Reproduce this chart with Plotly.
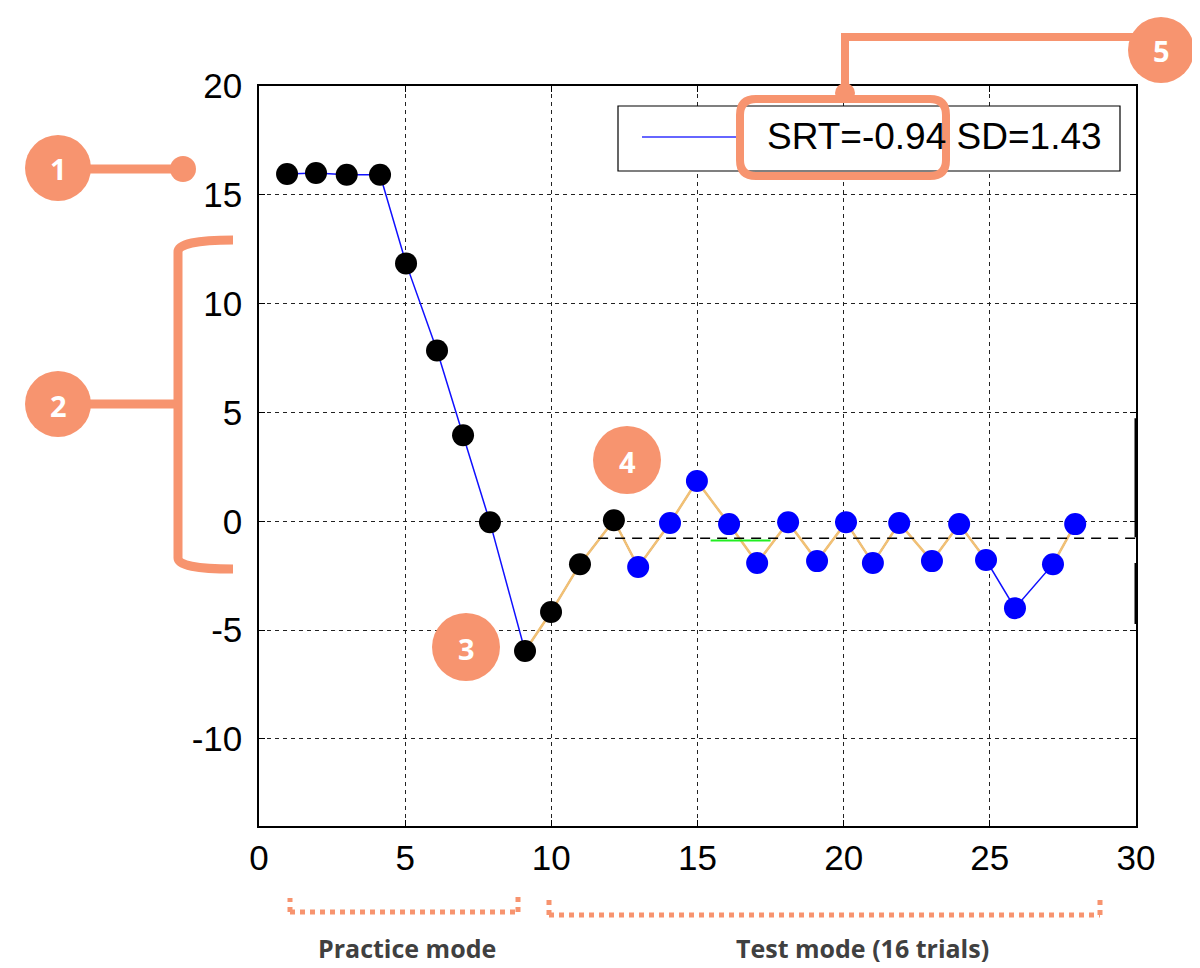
import plotly.graph_objects as go

# ---------------- data ----------------
practice_x = [0.96, 1.95, 3.0, 4.14, 5.03, 6.09, 6.98, 7.9, 9.1, 9.99, 10.98, 12.14]
practice_y = [15.96, 16.0, 15.92, 15.92, 11.85, 7.85, 3.95, -0.04, -5.96, -4.17, -1.97, 0.05]

test_x = [12.97, 14.06, 14.98, 16.08, 17.04, 18.1, 19.09, 20.08, 21.0, 21.9,
          23.02, 23.95, 24.87, 25.86, 27.16, 27.92]
test_y = [-2.1, -0.08, 1.85, -0.13, -1.92, -0.04, -1.83, -0.04, -1.92, -0.08,
          -1.83, -0.13, -1.78, -3.99, -1.97, -0.13]

srt_level = -0.78
srt_x = [11.6, 30]
green_x = [15.45, 17.5]
green_level = -0.88

x_ticks = [0, 5, 10, 15, 20, 25, 30]
x_tick_labels = ["0", "5", "10", "15", "20", "25", "30"]
y_ticks = [-10, -5, 0, 5, 10, 15, 20]
y_tick_labels = ["-10", "-5", "0", "5", "10", "15", "20"]
legend_text = "SRT=-0.94 SD=1.43"
label_practice = "Practice mode"
label_test = "Test mode (16 trials)"
badges = ["1", "2", "3", "4", "5"]

ORANGE = "#F7946F"
TAN = "#F2C173"
FONT = "Arial, Liberation Sans, sans-serif"

# ------------- page geometry (px, in the final screenshot) -------------
OFF = 8                     # page body margin of the html page
W, H = 1200 - OFF, 968 - OFF
L, R, T, B = 259, 1136, 86, 826


def px(x):
    return (x - L) / (R - L)


def py(y):
    return (B - y) / (B - T)


fig = go.Figure()

all_x = practice_x + test_x
all_y = practice_y + test_y
fig.add_trace(go.Scatter(x=all_x, y=all_y, mode="lines",
                         line=dict(color="#1010FF", width=1.5),
                         showlegend=False, hoverinfo="skip"))

tan_x = practice_x[8:] + test_x[:13] + [None] + test_x[14:]
tan_y = practice_y[8:] + test_y[:13] + [None] + test_y[14:]
fig.add_trace(go.Scatter(x=tan_x, y=tan_y, mode="lines",
                         line=dict(color=TAN, width=2.5),
                         connectgaps=False, showlegend=False, hoverinfo="skip"))

fig.add_trace(go.Scatter(x=srt_x, y=[srt_level, srt_level], mode="lines",
                         line=dict(color="black", width=1.5, dash="10px,7px"),
                         showlegend=False, hoverinfo="skip"))
fig.add_trace(go.Scatter(x=green_x, y=[green_level, green_level], mode="lines",
                         line=dict(color="#22EE22", width=2),
                         showlegend=False, hoverinfo="skip"))

fig.add_trace(go.Scatter(x=practice_x, y=practice_y, mode="markers",
                         marker=dict(color="black", size=22),
                         name="Practice", showlegend=False))
fig.add_trace(go.Scatter(x=test_x, y=test_y, mode="markers",
                         marker=dict(color="#0000FF", size=22),
                         name="Test", showlegend=False))

shapes = []
annotations = []

for y0, y1 in [(4.74, -0.73), (-1.92, -4.72)]:
    shapes.append(dict(type="line", xref="x", yref="y", x0=30, x1=30, y0=y0, y1=y1,
                       line=dict(color="black", width=3)))

# manual legend box
shapes.append(dict(type="rect", xref="paper", yref="paper",
                   x0=px(618), x1=px(1120), y0=py(171), y1=py(106),
                   line=dict(color="black", width=1.2), fillcolor="white", layer="above"))
shapes.append(dict(type="line", xref="paper", yref="paper",
                   x0=px(642), x1=px(737), y0=py(137), y1=py(137),
                   line=dict(color="#3333FF", width=1.5), layer="above"))
annotations.append(dict(xref="paper", yref="paper", x=px(765), y=py(137),
                        xanchor="left", yanchor="middle", showarrow=False,
                        text=legend_text, font=dict(family=FONT, size=37, color="black")))


def circle(cx, cy, r, color=ORANGE):
    return dict(type="circle", xref="paper", yref="paper",
                x0=px(cx - r), x1=px(cx + r), y0=py(cy + r), y1=py(cy - r),
                fillcolor=color, line=dict(width=0), layer="above")


def seg(x0, y0, x1, y1, w=8, color=ORANGE, dash=None):
    ln = dict(color=color, width=w)
    if dash:
        ln["dash"] = dash
    return dict(type="line", xref="paper", yref="paper",
                x0=px(x0), x1=px(x1), y0=py(y0), y1=py(y1), line=ln, layer="above")


def badge(cx, cy, txt, r=34):
    shapes.append(circle(cx, cy, r))
    annotations.append(dict(xref="paper", yref="paper", x=px(cx), y=py(cy + 1),
                            xanchor="center", yanchor="middle", showarrow=False,
                            text="<b>%s</b>" % txt,
                            font=dict(family="Open Sans", size=29, color="white")))


x0, x1, y0, y1, rr = 740, 946, 99, 176, 16
path = ("M {a},{b} L {c},{b} Q {d},{b} {d},{e} L {d},{f} Q {d},{g} {c},{g} "
        "L {a},{g} Q {h},{g} {h},{f} L {h},{e} Q {h},{b} {a},{b} Z").format(
    a=px(x0 + rr), b=py(y0), c=px(x1 - rr), d=px(x1), e=py(y0 + rr),
    f=py(y1 - rr), g=py(y1), h=px(x0))
shapes.append(dict(type="path", xref="paper", yref="paper", path=path,
                   line=dict(color=ORANGE, width=8), layer="above"))

shapes.append(seg(845, 95, 845, 37))
shapes.append(seg(841, 37, 1140, 37))
shapes.append(circle(845, 93, 10))
badge(1161, 50, badges[4], r=33)

shapes.append(seg(80, 169, 183, 169, w=9))
shapes.append(circle(183, 169, 13))
badge(58, 168, badges[0], r=33)

br = ("M {a},{b} Q {c},{b} {c},{d} L {c},{e} Q {c},{f} {a},{f}").format(
    a=px(233), b=py(240), c=px(178), d=py(252), e=py(558), f=py(569))
shapes.append(dict(type="path", xref="paper", yref="paper", path=br,
                   line=dict(color=ORANGE, width=9), layer="above"))
shapes.append(seg(80, 404, 178, 404, w=9))
badge(58, 404, badges[1], r=33)

badge(466, 647, badges[2])
badge(627, 460, badges[3])

for (xa, xb, yl, ytop) in [(290, 518, 912, 898), (549, 1100, 915, 900)]:
    shapes.append(seg(xa, yl, xb, yl, w=5, dash="dot"))
    shapes.append(seg(xa, yl, xa, ytop, w=5, dash="dot"))
    shapes.append(seg(xb, yl, xb, ytop - 2, w=5, dash="dot"))

annotations.append(dict(xref="paper", yref="paper", x=px(407), y=py(948),
                        xanchor="center", yanchor="middle", showarrow=False,
                        text="<b>%s</b>" % label_practice,
                        font=dict(family="Open Sans", size=25, color="#404040")))
annotations.append(dict(xref="paper", yref="paper", x=px(862), y=py(948),
                        xanchor="center", yanchor="middle", showarrow=False,
                        text="<b>%s</b>" % label_test,
                        font=dict(family="Open Sans", size=25, color="#404040")))

axis_common = dict(showline=True, linecolor="black", linewidth=1.5, mirror="ticks",
                   ticks="inside", ticklen=6, tickcolor="black", tickwidth=1,
                   showgrid=True, gridcolor="#222222", gridwidth=1, griddash="4px,4px",
                   zeroline=False,
                   tickfont=dict(family=FONT, size=35, color="black"))

fig.update_layout(
    width=W, height=H,
    margin=dict(l=L - OFF, r=1200 - R, t=T - OFF, b=968 - B, pad=0),
    paper_bgcolor="white", plot_bgcolor="white",
    xaxis=dict(range=[0, 30], tickvals=x_ticks, ticktext=x_tick_labels,
               ticklabelstandoff=0, **axis_common),
    yaxis=dict(range=[-14, 20], tickvals=y_ticks, ticktext=y_tick_labels,
               ticklabelstandoff=8, **axis_common),
    shapes=shapes, annotations=annotations,
    showlegend=False,
)

fig.write_html("out.html")
